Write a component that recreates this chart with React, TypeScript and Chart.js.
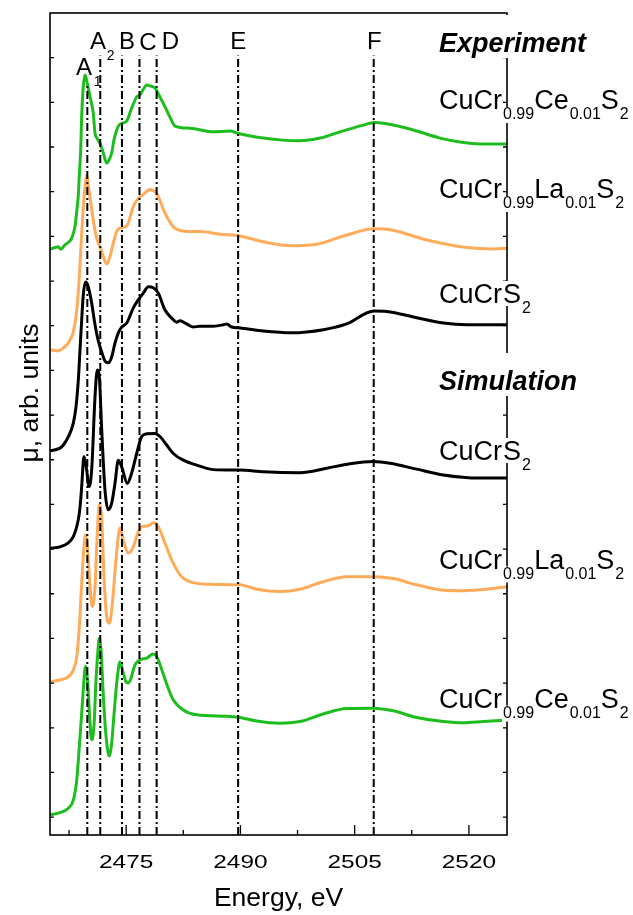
import React, { useEffect, useRef } from 'react';
import { Chart, registerables } from 'chart.js';
Chart.register(...registerables);

// ---------- axis ranges & ticks ----------
const X_MIN = 2465;
const X_MAX = 2525;
const Y_MIN = -0.4;
const Y_MAX = 18;
const X_MAJOR_TICKS = [2475, 2490, 2505, 2520];
const X_MINOR_TICKS = [2467.5, 2482.5, 2497.5, 2512.5];
const Y_TICKS = [0, 1, 2, 3, 4, 5, 6, 7, 8, 9, 10, 11, 12, 13, 14, 15, 16, 17];

// ---------- feature lines ----------
const FEATURE_NAMES = ['A1', 'A2', 'B', 'C', 'D', 'E', 'F'];
const FEATURE_ENERGIES = [2469.9, 2471.6, 2474.45, 2476.75, 2479.0, 2489.7, 2507.5];
const FEATURE_TOPS = [16.43, 17.05, 17.05, 17.05, 17.05, 17.05, 17.05];

// ---------- Experiment: CuCr0.99Ce0.01S2 ----------
const EXP_CE_E = [2465.0, 2465.66, 2466.09, 2466.40, 2466.97, 2467.85, 2468.28, 2468.58, 2468.72, 2468.85, 2469.03, 2469.16, 2469.37, 2469.60, 2469.86, 2470.25, 2470.68, 2470.91, 2471.17, 2471.56, 2471.96, 2472.44, 2472.75, 2473.10, 2473.40, 2473.76, 2474.06, 2474.41, 2475.07, 2475.63, 2476.38, 2476.82, 2477.21, 2477.70, 2478.13, 2478.78, 2479.44, 2480.10, 2480.75, 2481.41, 2483.38, 2486.44, 2488.63, 2489.59, 2493.00, 2495.20, 2497.82, 2500.45, 2503.07, 2506.13, 2507.54, 2509.20, 2512.70, 2516.20, 2519.26, 2521.45, 2525.0];
const EXP_CE_MU = [12.71, 12.75, 12.77, 12.71, 12.81, 12.96, 13.22, 13.67, 13.93, 14.37, 14.93, 15.68, 16.35, 16.61, 16.45, 16.13, 15.76, 15.31, 15.20, 15.08, 14.89, 14.64, 14.71, 14.87, 15.16, 15.38, 15.49, 15.53, 15.58, 15.83, 16.12, 16.17, 16.28, 16.39, 16.37, 16.32, 16.12, 15.90, 15.67, 15.47, 15.42, 15.34, 15.36, 15.31, 15.20, 15.16, 15.14, 15.20, 15.34, 15.49, 15.55, 15.52, 15.38, 15.20, 15.10, 15.07, 15.07];

// ---------- Experiment: CuCr0.99La0.01S2 ----------
const EXP_LA_E = [2465.0, 2466.09, 2466.75, 2467.40, 2467.85, 2468.06, 2468.51, 2468.85, 2469.16, 2469.37, 2469.60, 2469.79, 2470.12, 2470.68, 2471.13, 2471.56, 2472.00, 2472.44, 2472.88, 2473.31, 2473.76, 2474.41, 2475.07, 2475.94, 2476.59, 2477.25, 2478.13, 2478.78, 2479.22, 2480.10, 2481.41, 2483.16, 2484.69, 2487.32, 2489.94, 2493.00, 2496.73, 2500.22, 2503.95, 2507.54, 2509.20, 2514.89, 2519.71, 2523.20, 2525.0];
const EXP_LA_MU = [10.46, 10.44, 10.50, 10.61, 10.76, 10.86, 11.35, 12.09, 13.08, 13.66, 14.11, 14.37, 14.04, 13.37, 12.96, 12.77, 12.55, 12.38, 12.55, 12.85, 13.11, 13.20, 13.23, 13.67, 13.85, 13.94, 14.05, 14.00, 13.89, 13.52, 13.18, 13.11, 13.11, 13.05, 13.01, 12.88, 12.79, 12.83, 13.03, 13.17, 13.16, 12.90, 12.75, 12.72, 12.73];

// ---------- Experiment: CuCrS2 ----------
const EXP_CR_E = [2465.0, 2466.31, 2466.75, 2467.40, 2468.06, 2468.41, 2468.72, 2468.94, 2469.16, 2469.37, 2469.66, 2469.99, 2470.47, 2470.91, 2471.34, 2471.79, 2472.22, 2472.65, 2473.10, 2473.53, 2473.97, 2474.41, 2475.07, 2475.94, 2476.59, 2477.25, 2477.91, 2478.56, 2479.22, 2480.10, 2480.98, 2481.63, 2482.07, 2482.95, 2483.81, 2484.69, 2486.44, 2487.75, 2488.20, 2488.85, 2489.94, 2493.00, 2496.73, 2500.88, 2503.95, 2507.54, 2509.20, 2513.14, 2516.63, 2519.71, 2525.0];
const EXP_CR_MU = [8.20, 8.26, 8.33, 8.51, 8.82, 9.18, 9.79, 10.46, 11.13, 11.69, 11.98, 11.89, 11.51, 11.02, 10.66, 10.41, 10.21, 10.17, 10.30, 10.61, 10.84, 10.97, 11.06, 11.40, 11.58, 11.73, 11.87, 11.85, 11.73, 11.35, 11.17, 11.08, 11.11, 11.04, 10.97, 10.99, 10.99, 11.02, 11.04, 10.97, 10.95, 10.88, 10.84, 10.91, 11.04, 11.33, 11.32, 11.18, 11.06, 11.02, 11.02];

// ---------- Simulation: CuCrS2 ----------
const SIM_CR_E = [2465.0, 2466.31, 2467.40, 2468.06, 2468.51, 2468.85, 2469.03, 2469.16, 2469.46, 2469.81, 2470.12, 2470.47, 2470.91, 2471.21, 2471.47, 2471.79, 2472.22, 2472.65, 2473.10, 2473.53, 2473.97, 2474.41, 2475.15, 2475.72, 2476.38, 2477.04, 2477.70, 2478.78, 2479.44, 2480.32, 2481.19, 2482.50, 2484.26, 2486.01, 2488.20, 2489.94, 2493.00, 2497.82, 2501.33, 2504.39, 2507.45, 2509.64, 2513.14, 2516.63, 2521.45, 2525.0];
const SIM_CR_MU = [6.02, 6.05, 6.14, 6.28, 6.50, 6.80, 7.10, 7.40, 8.07, 7.77, 7.40, 7.77, 9.41, 10.01, 9.86, 8.67, 7.32, 6.88, 7.03, 7.47, 7.99, 7.84, 7.47, 7.70, 8.14, 8.52, 8.58, 8.59, 8.52, 8.33, 8.14, 7.99, 7.88, 7.79, 7.77, 7.77, 7.73, 7.71, 7.81, 7.91, 7.96, 7.92, 7.79, 7.66, 7.59, 7.59];

// ---------- Simulation: CuCr0.99La0.01S2 ----------
const SIM_LA_E = [2465.0, 2466.31, 2467.40, 2468.06, 2468.51, 2468.85, 2469.16, 2469.46, 2469.68, 2469.94, 2470.25, 2470.55, 2470.91, 2471.21, 2471.47, 2471.79, 2472.13, 2472.44, 2472.79, 2473.23, 2473.66, 2474.19, 2474.62, 2475.28, 2475.94, 2476.51, 2477.04, 2477.91, 2478.56, 2479.22, 2480.10, 2481.19, 2482.29, 2483.81, 2486.44, 2489.94, 2492.14, 2495.20, 2497.82, 2500.88, 2503.95, 2507.45, 2510.07, 2513.14, 2516.63, 2519.26, 2522.33, 2525.0];
const SIM_LA_MU = [3.03, 3.07, 3.14, 3.29, 3.59, 4.26, 5.23, 6.05, 6.32, 5.98, 5.16, 4.71, 5.16, 6.35, 6.99, 6.65, 5.23, 4.49, 4.34, 4.86, 5.76, 6.47, 6.20, 5.91, 6.05, 6.35, 6.50, 6.52, 6.59, 6.50, 6.13, 5.68, 5.38, 5.25, 5.21, 5.20, 5.10, 5.05, 5.10, 5.27, 5.38, 5.38, 5.34, 5.20, 5.08, 5.07, 5.10, 5.16];

// ---------- Simulation: CuCr0.99Ce0.01S2 ----------
const SIM_CE_E = [2465.0, 2466.31, 2467.40, 2468.06, 2468.51, 2468.85, 2469.16, 2469.37, 2469.66, 2469.92, 2470.19, 2470.47, 2470.78, 2471.04, 2471.30, 2471.47, 2471.70, 2471.96, 2472.29, 2472.61, 2472.79, 2473.07, 2473.40, 2473.80, 2474.19, 2474.58, 2474.98, 2475.28, 2475.63, 2476.16, 2476.82, 2477.70, 2478.56, 2479.05, 2479.70, 2480.36, 2481.19, 2482.50, 2484.26, 2488.20, 2489.94, 2492.14, 2495.20, 2497.82, 2500.88, 2503.95, 2507.45, 2510.07, 2513.14, 2516.63, 2519.26, 2521.89, 2524.47];
const SIM_CE_MU = [0.05, 0.10, 0.20, 0.38, 0.83, 1.58, 2.32, 2.85, 3.38, 3.07, 2.29, 1.73, 2.06, 3.07, 3.74, 4.00, 3.74, 2.85, 1.95, 1.46, 1.37, 1.61, 2.29, 3.07, 3.48, 3.25, 3.03, 3.00, 3.11, 3.41, 3.52, 3.56, 3.65, 3.58, 3.29, 2.96, 2.62, 2.40, 2.29, 2.26, 2.23, 2.15, 2.10, 2.14, 2.31, 2.43, 2.44, 2.38, 2.23, 2.14, 2.11, 2.14, 2.17];

// ---------- labels ----------
type Run = [string, boolean];
const FORMULA_CE: Run[] = [['CuCr', false], ['0.99', true], ['Ce', false], ['0.01', true], ['S', false], ['2', true]];
const FORMULA_LA: Run[] = [['CuCr', false], ['0.99', true], ['La', false], ['0.01', true], ['S', false], ['2', true]];
const FORMULA_CR: Run[] = [['CuCr', false], ['S', false], ['2', true]];

const GREEN = '#1ebd1e';
const ORANGE = '#ffab5a';
const BLACK = '#000000';

const FONT = '"Liberation Sans", Arial, Helvetica, sans-serif';

function pts(xs: number[], ys: number[]) {
  return xs.map((x, i) => ({ x, y: ys[i] }));
}

const curve = (label: string, xs: number[], ys: number[], color: string) => ({
  label,
  data: pts(xs, ys),
  borderColor: color,
  backgroundColor: color,
  borderWidth: 3,
  pointRadius: 0,
  fill: false,
  cubicInterpolationMode: 'monotone' as const,
});

function drawFormula(ctx: CanvasRenderingContext2D, runs: Run[], x0: number, base: number) {
  const main = `27px ${FONT}`;
  const sub = `16px ${FONT}`;
  let cx = x0;
  const items: { t: string; s: boolean; x: number; w: number }[] = [];
  for (const [t, s] of runs) {
    ctx.font = s ? sub : main;
    const w = ctx.measureText(t).width;
    items.push({ t, s, x: cx, w });
    cx += w + (s ? 0 : 1);
  }
  ctx.fillStyle = '#ffffff';
  for (const it of items) {
    if (it.s) ctx.fillRect(it.x - 1, base - 2, it.w + 2, 16);
    else ctx.fillRect(it.x - 1, base - 22, it.w + 2, 25);
  }
  ctx.fillStyle = '#000000';
  ctx.textAlign = 'left';
  ctx.textBaseline = 'alphabetic';
  for (const it of items) {
    ctx.font = it.s ? sub : main;
    ctx.fillText(it.t, it.x, it.s ? base + 10 : base);
  }
}

function drawHeading(ctx: CanvasRenderingContext2D, text: string, x0: number, base: number) {
  ctx.font = `italic bold 27px ${FONT}`;
  const w = ctx.measureText(text).width;
  ctx.fillStyle = '#ffffff';
  ctx.fillRect(x0 - 2, base - 37, w + 4, 43);
  ctx.fillStyle = '#000000';
  ctx.textAlign = 'left';
  ctx.textBaseline = 'alphabetic';
  ctx.fillText(text, x0, base);
}

const decorPlugin = {
  id: 'decor',
  afterDraw(chart: any) {
    const { ctx, chartArea: a, scales } = chart;
    const xs = scales.x;
    const ys = scales.y;
    ctx.save();
    // frame
    ctx.strokeStyle = '#000';
    ctx.lineWidth = 1.6;
    ctx.strokeRect(a.left, a.top, a.right - a.left, a.bottom - a.top);
    // x ticks (inward)
    ctx.lineWidth = 1.3;
    ctx.beginPath();
    for (const v of X_MAJOR_TICKS) {
      const px = xs.getPixelForValue(v);
      ctx.moveTo(px, a.bottom);
      ctx.lineTo(px, a.bottom - 10);
    }
    for (const v of X_MINOR_TICKS) {
      const px = xs.getPixelForValue(v);
      ctx.moveTo(px, a.bottom);
      ctx.lineTo(px, a.bottom - 5);
    }
    for (const v of Y_TICKS) {
      const py = ys.getPixelForValue(v);
      ctx.moveTo(a.left, py);
      ctx.lineTo(a.left + 4, py);
      ctx.moveTo(a.right, py);
      ctx.lineTo(a.right - 4, py);
    }
    ctx.stroke();

    // x tick labels
    ctx.fillStyle = '#000';
    ctx.textAlign = 'center';
    ctx.textBaseline = 'alphabetic';
    ctx.font = `18.5px ${FONT}`;
    for (const v of X_MAJOR_TICKS) {
      const px = xs.getPixelForValue(v);
      ctx.save();
      ctx.translate(px, a.bottom + 33);
      ctx.scale(1.32, 1);
      ctx.fillText(String(v), 0, 0);
      ctx.restore();
    }
    // x title
    ctx.font = `26.5px ${FONT}`;
    ctx.fillText('Energy, eV', (a.left + a.right) / 2, a.bottom + 71);
    // y title
    ctx.save();
    ctx.translate(38, 393);
    ctx.rotate(-Math.PI / 2);
    ctx.font = `26.5px ${FONT}`;
    ctx.textAlign = 'center';
    ctx.fillText('μ, arb. units', 0, 0);
    ctx.restore();

    // feature letters
    const big = `24px ${FONT}`;
    const small = `14px ${FONT}`;
    const letterOffsets = [-3.3, -2.3, 5, 8.5, 13.8, 0, 0.5];
    const letterBases = [75, 49.3, 49, 49.5, 49, 49, 49];
    FEATURE_NAMES.forEach((name, i) => {
      const px = xs.getPixelForValue(FEATURE_ENERGIES[i]);
      ctx.font = big;
      ctx.textAlign = 'center';
      ctx.fillText(name[0], px + letterOffsets[i], letterBases[i]);
      if (name.length > 1) {
        ctx.font = small;
        ctx.textAlign = 'left';
        ctx.fillText(name.slice(1), px + 6.5, letterBases[i] + 10.5);
      }
    });

    // right-side labels
    drawHeading(ctx, 'Experiment', 439, 52);
    drawFormula(ctx, FORMULA_CE, 439, 109);
    drawFormula(ctx, FORMULA_LA, 439, 198);
    drawFormula(ctx, FORMULA_CR, 439, 303);
    drawHeading(ctx, 'Simulation', 439, 390);
    drawFormula(ctx, FORMULA_CR, 439, 460);
    drawFormula(ctx, FORMULA_LA, 439, 568.5);
    drawFormula(ctx, FORMULA_CE, 439, 707.5);
    ctx.restore();
  },
};

export default function App() {
  const ref = useRef<HTMLCanvasElement | null>(null);
  useEffect(() => {
    if (!ref.current) return;
    const featureSets = FEATURE_NAMES.map((name, i) => ({
      label: name,
      data: [
        { x: FEATURE_ENERGIES[i], y: Y_MIN },
        { x: FEATURE_ENERGIES[i], y: FEATURE_TOPS[i] },
      ],
      borderColor: '#000',
      borderWidth: 2,
      borderDash: [8, 3, 2, 3],
      pointRadius: 0,
      tension: 0,
      fill: false,
    }));
    const chart = new Chart(ref.current, {
      type: 'line',
      data: {
        datasets: [
          ...featureSets,
          curve('Exp CuCr0.99Ce0.01S2', EXP_CE_E, EXP_CE_MU, GREEN),
          curve('Exp CuCr0.99La0.01S2', EXP_LA_E, EXP_LA_MU, ORANGE),
          curve('Exp CuCrS2', EXP_CR_E, EXP_CR_MU, BLACK),
          curve('Sim CuCrS2', SIM_CR_E, SIM_CR_MU, BLACK),
          curve('Sim CuCr0.99La0.01S2', SIM_LA_E, SIM_LA_MU, ORANGE),
          curve('Sim CuCr0.99Ce0.01S2', SIM_CE_E, SIM_CE_MU, GREEN),
        ] as any,
      },
      options: {
        animation: false,
        responsive: false,
        devicePixelRatio: 1,
        layout: { padding: { left: 50, top: 13, right: 126, bottom: 80 } },
        plugins: { legend: { display: false }, tooltip: { enabled: false } },
        scales: {
          x: { type: 'linear', min: X_MIN, max: X_MAX, display: false },
          y: { type: 'linear', min: Y_MIN, max: Y_MAX, display: false },
        },
      },
      plugins: [decorPlugin],
    });
    return () => chart.destroy();
  }, []);
  return (
    <div style={{ position: 'absolute', left: 0, top: 0, width: 633, height: 915, background: '#fff' }}>
      <canvas ref={ref} width={633} height={915} style={{ display: 'block' }} />
    </div>
  );
}
